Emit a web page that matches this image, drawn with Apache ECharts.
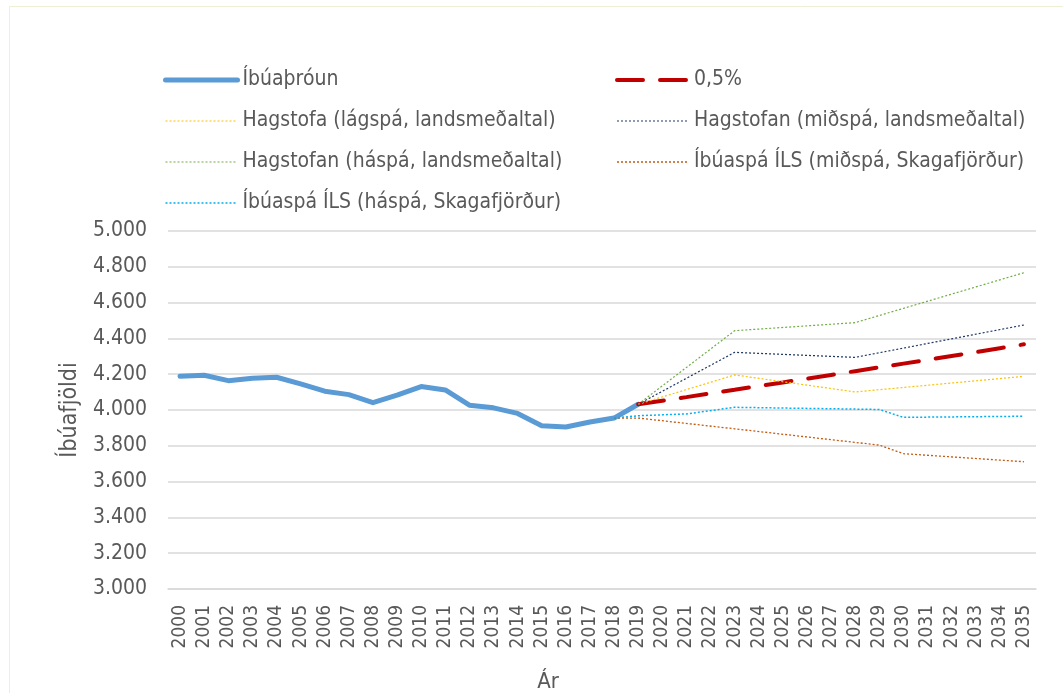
<!DOCTYPE html>
<html>
<head>
<meta charset="utf-8">
<script src="https://cdn.jsdelivr.net/npm/echarts@6/dist/echarts.min.js"></script>
<style>
  html, body { margin: 0; padding: 0; background: #fff; }
  #chart { width: 1063px; height: 693px; }
</style>
</head>
<body>
<div id="chart"></div>
<script>
// ár á x-ás
var years = ['2000','2001','2002','2003','2004','2005','2006','2007','2008','2009',
             '2010','2011','2012','2013','2014','2015','2016','2017','2018','2019',
             '2020','2021','2022','2023','2024','2025','2026','2027','2028','2029',
             '2030','2031','2032','2033','2034','2035'];
var yTicks = [3000, 3200, 3400, 3600, 3800, 4000, 4200, 4400, 4600, 4800, 5000];

// Íbúaþróun 2000-2019
var throunYears = years.slice(0, 20);
var throunValues = [4188, 4194, 4164, 4177, 4183, 4146, 4105, 4086, 4041, 4083,
                    4131, 4112, 4027, 4012, 3981, 3912, 3905, 3933, 3955, 4032];

// 0,5% vöxtur 2019-2035
var pctYears = years.slice(19);
var pctValues = [4032, 4052, 4072, 4093, 4113, 4134, 4154, 4175, 4196, 4217,
                 4238, 4259, 4280, 4302, 4323, 4345, 4367];

// Hagstofa spár
var hagYears = ['2019', '2023', '2028', '2035'];
var hagLagValues = [4032, 4196, 4101, 4188];
var hagMidValues = [4032, 4322, 4294, 4475];
var hagHaValues = [4032, 4443, 4488, 4767];

// Íbúaspá ÍLS
var ilsMidYears = ['2018', '2019', '2023', '2028', '2029', '2030', '2035'];
var ilsMidValues = [3955, 3955, 3895, 3819, 3804, 3756, 3711];
var ilsHaYears = ['2018', '2019', '2021', '2023', '2028', '2029', '2030', '2035'];
var ilsHaValues = [3955, 3968, 3978, 4015, 4005, 4003, 3959, 3965];

function pairs(xs, vs) {
    return xs.map(function (x, i) { return [x, vs[i]]; });
}

var font = "'Liberation Sans Narrow', 'DejaVu Sans Condensed', Lato, sans-serif";
var txt = '#595959';

var chart = echarts.init(document.getElementById('chart'));

var dotted = function (color, w) {
    return { color: color, width: w, type: [2, 2] };
};

var redDash = { color: '#c00000', width: 4, type: [26, 17], cap: 'round' };
var blueSolid = { color: '#5b9bd5', width: 5, cap: 'round', join: 'round' };

var legendText = { color: txt, fontSize: 21, lineHeight: 26, fontFamily: font };

var option = {
    backgroundColor: '#fff',
    animation: false,
    textStyle: { fontFamily: font },
    graphic: [{
        type: 'rect',
        silent: true,
        z: -1,
        shape: { x: 9.5, y: 6.5, width: 1100, height: 800 },
        style: { fill: 'none', stroke: '#efefd6', lineWidth: 1 }
    }],
    legend: [{
        data: [
            { name: 'Íbúaþróun', lineStyle: { width: 5, cap: 'round' } },
            { name: 'Hagstofa (lágspá, landsmeðaltal)', lineStyle: { width: 1.2, type: [2, 2] } },
            { name: 'Hagstofan (háspá, landsmeðaltal)', lineStyle: { width: 1.2, type: [2, 2] } },
            { name: 'Íbúaspá ÍLS (háspá, Skagafjörður)', lineStyle: { width: 1.5, type: [2, 2] } }
        ],
        orient: 'vertical',
        left: 158, top: 62,
        itemWidth: 72, itemHeight: 14, itemGap: 15,
        itemStyle: { opacity: 0 },
        textStyle: legendText
    }, {
        data: [
            { name: '0,5%', lineStyle: { width: 4, type: [26, 17], cap: 'round' } },
            { name: 'Hagstofan (miðspá, landsmeðaltal)', lineStyle: { width: 1.2, type: [2, 2] } },
            { name: 'Íbúaspá ÍLS (miðspá, Skagafjörður)', lineStyle: { width: 1.3, type: [2, 2] } }
        ],
        orient: 'vertical',
        left: 610, top: 62,
        itemWidth: 72, itemHeight: 14, itemGap: 15,
        itemStyle: { opacity: 0 },
        textStyle: legendText
    }],
    grid: { left: 168, right: 27, top: 231, bottom: 104, outerBoundsMode: 'none', containLabel: false },
    xAxis: {
        type: 'category',
        data: years,
        boundaryGap: true,
        name: 'Ár',
        nameLocation: 'middle',
        nameGap: 82,
        nameTextStyle: { color: txt, fontSize: 22, padding: [0, 108, 0, 0] },
        axisLine: { show: true, lineStyle: { color: '#d9d9d9', width: 1.5 } },
        axisTick: { show: false },
        axisLabel: { rotate: 90, margin: 16, color: txt, fontSize: 19, interval: 0 }
    },
    yAxis: {
        type: 'value',
        min: yTicks[0],
        max: yTicks[yTicks.length - 1],
        interval: 200,
        name: 'Íbúafjöldi',
        nameLocation: 'middle',
        nameGap: 86,
        nameTextStyle: { color: txt, fontSize: 23 },
        axisLine: { show: false },
        axisTick: { show: false },
        axisLabel: {
            margin: 21, color: txt, fontSize: 21,
            formatter: function (v) { return String(v).replace(/\B(?=(\d{3})+(?!\d))/g, '.'); }
        },
        splitLine: { lineStyle: { color: '#d9d9d9', width: 1.5 } }
    },
    series: [
        {
            name: 'Íbúaþróun', type: 'line', symbol: 'none',
            data: pairs(throunYears, throunValues),
            lineStyle: blueSolid,
            itemStyle: { color: '#5b9bd5' }
        },
        {
            name: '0,5%', type: 'line', symbol: 'none',
            data: pairs(pctYears, pctValues),
            lineStyle: redDash,
            itemStyle: { color: '#c00000' }
        },
        {
            name: 'Hagstofa (lágspá, landsmeðaltal)', type: 'line', symbol: 'none',
            data: pairs(hagYears, hagLagValues),
            lineStyle: dotted('#ffc000', 1.2), itemStyle: { color: '#ffc000' }
        },
        {
            name: 'Hagstofan (miðspá, landsmeðaltal)', type: 'line', symbol: 'none',
            data: pairs(hagYears, hagMidValues),
            lineStyle: dotted('#203864', 1.2), itemStyle: { color: '#203864' }
        },
        {
            name: 'Hagstofan (háspá, landsmeðaltal)', type: 'line', symbol: 'none',
            data: pairs(hagYears, hagHaValues),
            lineStyle: dotted('#70ad47', 1.2), itemStyle: { color: '#70ad47' }
        },
        {
            name: 'Íbúaspá ÍLS (miðspá, Skagafjörður)', type: 'line', symbol: 'none',
            data: pairs(ilsMidYears, ilsMidValues),
            lineStyle: dotted('#c55a11', 1.3), itemStyle: { color: '#c55a11' }
        },
        {
            name: 'Íbúaspá ÍLS (háspá, Skagafjörður)', type: 'line', symbol: 'none',
            data: pairs(ilsHaYears, ilsHaValues),
            lineStyle: dotted('#00b0f0', 1.5), itemStyle: { color: '#00b0f0' }
        }
    ]
};

chart.setOption(option);
</script>
</body>
</html>
